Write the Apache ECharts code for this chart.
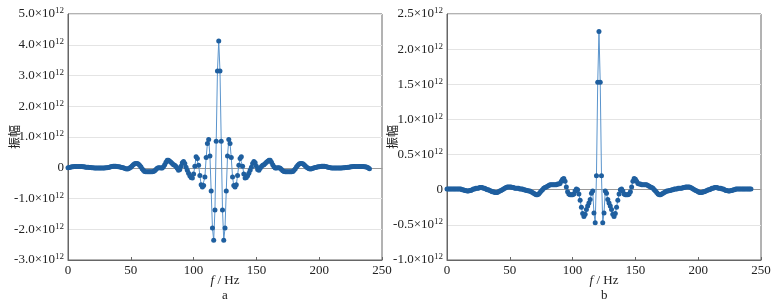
<!DOCTYPE html>
<html>
<head>
<meta charset="utf-8">
<script src="https://cdn.jsdelivr.net/npm/echarts@6/dist/echarts.min.js"></script>
<style>
  html, body { margin: 0; padding: 0; background: #fff; }
  #chart { width: 780px; height: 305px; }
</style>
</head>
<body>
<div id="chart"></div>
<script>
// amplitude, in units of 1e12, sampled every fStep Hz from 0
const fStep = 1;

const ampA = [
  0.00, 0.01, 0.02, 0.03, 0.03, 0.04, 0.04, 0.04, 0.04, 0.04,
  0.04, 0.04, 0.03, 0.03, 0.02, 0.02, 0.02, 0.01, 0.01, 0.00,
  0.00, -0.01, -0.01, -0.01, -0.01, -0.01, -0.01, -0.01, -0.01, -0.01,
  0.00, 0.00, 0.01, 0.02, 0.03, 0.04, 0.05, 0.05, 0.05, 0.04,
  0.03, 0.03, 0.02, 0.01, 0.00, -0.02, -0.03, -0.04, -0.03, -0.01,
  0.02, 0.06, 0.10, 0.13, 0.14, 0.14, 0.12, 0.08, 0.03, -0.03,
  -0.08, -0.12, -0.13, -0.13, -0.13, -0.13, -0.13, -0.13, -0.12, -0.10,
  -0.06, -0.02, 0.00, 0.00, -0.01, -0.01, 0.03, 0.10, 0.18, 0.24,
  0.24, 0.21, 0.18, 0.14, 0.10, 0.08, 0.04, -0.02, -0.08, -0.06,
  0.05, 0.16, 0.20, 0.14, 0.02, -0.08, -0.18, -0.26, -0.32, -0.33,
  -0.20, 0.05, 0.36, 0.30, 0.08, -0.25, -0.55, -0.63, -0.58, -0.30,
  0.33, 0.79, 0.92, 0.38, -0.76, -1.96, -2.36, -1.37, 0.86, 3.15,
  4.12,
  3.15, 0.86, -1.37, -2.36, -1.96, -0.76, 0.38, 0.92, 0.79, 0.33,
  -0.30, -0.58, -0.63, -0.55, -0.25, 0.08, 0.30, 0.36, 0.05, -0.20,
  -0.33, -0.32, -0.26, -0.18, -0.08, 0.02, 0.14, 0.20, 0.16, 0.05,
  -0.06, -0.08, -0.02, 0.04, 0.08, 0.10, 0.14, 0.18, 0.21, 0.24,
  0.24, 0.18, 0.10, 0.03, -0.01, -0.01, 0.00, 0.00, -0.02, -0.06,
  -0.10, -0.12, -0.13, -0.13, -0.13, -0.13, -0.13, -0.13, -0.12, -0.08,
  -0.03, 0.03, 0.08, 0.12, 0.14, 0.14, 0.13, 0.10, 0.06, 0.02,
  -0.01, -0.03, -0.04, -0.03, -0.02, 0.00, 0.01, 0.02, 0.03, 0.03,
  0.04, 0.05, 0.05, 0.05, 0.04, 0.03, 0.02, 0.01, 0.00, -0.01,
  -0.01, -0.01, -0.01, -0.01, -0.01, -0.01, -0.01, -0.01, 0.00, 0.00,
  0.01, 0.01, 0.02, 0.02, 0.03, 0.03, 0.04, 0.04, 0.04, 0.04,
  0.04, 0.04, 0.04, 0.04, 0.04, 0.03, 0.03, 0.02, 0.00, -0.03
];

const ampB = [
  0.01, 0.01, 0.01, 0.01, 0.01, 0.01, 0.01, 0.01, 0.01, 0.01,
  0.01, 0.01, 0.00, 0.00, -0.01, -0.01, -0.02, -0.02, -0.01, -0.01,
  0.00, 0.01, 0.01, 0.02, 0.02, 0.02, 0.03, 0.03, 0.03, 0.02,
  0.02, 0.01, 0.00, 0.00, -0.01, -0.02, -0.03, -0.03, -0.04, -0.04,
  -0.04, -0.03, -0.02, -0.01, 0.00, 0.01, 0.02, 0.03, 0.04, 0.04,
  0.04, 0.04, 0.03, 0.03, 0.02, 0.02, 0.02, 0.02, 0.01, 0.01,
  0.01, 0.00, 0.00, -0.01, -0.01, -0.02, -0.02, -0.03, -0.04, -0.05,
  -0.06, -0.07, -0.07, -0.06, -0.04, -0.02, 0.00, 0.02, 0.03, 0.04,
  0.05, 0.06, 0.07, 0.07, 0.07, 0.07, 0.07, 0.07, 0.08, 0.08,
  0.09, 0.12, 0.15, 0.16, 0.12, 0.04, -0.03, -0.06, -0.07, -0.07,
  -0.07, -0.06, -0.02, 0.01, 0.00, -0.06, -0.15, -0.25, -0.34, -0.38,
  -0.35, -0.28, -0.23, -0.19, -0.14, -0.05, -0.02, -0.33, -0.47, 0.20,
  1.53, 2.25, 1.53,
  0.20, -0.47, -0.33, -0.02, -0.05, -0.14, -0.19, -0.23, -0.28, -0.35,
  -0.38, -0.34, -0.25, -0.15, -0.06, 0.00, 0.01, -0.02, -0.06, -0.07,
  -0.07, -0.07, -0.06, -0.03, 0.04, 0.12, 0.16, 0.15, 0.12, 0.09,
  0.08, 0.08, 0.07, 0.07, 0.07, 0.07, 0.07, 0.06, 0.05, 0.04,
  0.03, 0.02, 0.00, -0.02, -0.04, -0.06, -0.07, -0.07, -0.06, -0.05,
  -0.04, -0.03, -0.02, -0.02, -0.01, -0.01, 0.00, 0.00, 0.01, 0.01,
  0.01, 0.02, 0.02, 0.02, 0.02, 0.03, 0.03, 0.04, 0.04, 0.04,
  0.04, 0.03, 0.02, 0.01, 0.00, -0.01, -0.02, -0.03, -0.04, -0.04,
  -0.04, -0.03, -0.03, -0.02, -0.01, 0.00, 0.00, 0.01, 0.02, 0.02,
  0.03, 0.03, 0.03, 0.02, 0.02, 0.02, 0.01, 0.01, 0.00, -0.01,
  -0.01, -0.02, -0.02, -0.01, -0.01, 0.00, 0.00, 0.01, 0.01, 0.01,
  0.01, 0.01, 0.01, 0.01, 0.01, 0.01, 0.01, 0.01, 0.01, 0.01
];

const xTicks = [0, 50, 100, 150, 200, 250];
const yTicksA = [-3, -2, -1, 0, 1, 2, 3, 4, 5];
const yTicksB = [-1, -0.5, 0, 0.5, 1, 1.5, 2, 2.5];
const panelLabels = ["a", "b"];

const serif = "Liberation Serif, Times New Roman, serif";
const cjk = "Liberation Serif, Noto Sans CJK SC, sans-serif";

function toPairs(arr) {
  return arr.map((v, i) => [i * fStep, v]);
}

function yLabel(v) {
  if (v === 0) return "{n|0}";
  return "{n|" + v.toFixed(1) + "×10}{s|12}";
}

const grids = [
  { left: 68, top: 14, width: 314, height: 246 },
  { left: 447, top: 14, width: 314, height: 246 },
];

function mainX(idx) {
  return {
    type: "value",
    gridIndex: idx,
    min: xTicks[0],
    max: xTicks[xTicks.length - 1],
    interval: 50,
    name: "{i|f} / Hz",
    nameLocation: "middle",
    nameGap: 14,
    nameMoveOverlap: false,
    nameTextStyle: {
      color: "#222",
      fontFamily: serif,
      fontSize: 13,
      rich: { i: { fontStyle: "italic", fontFamily: serif, fontSize: 13, color: "#222" } },
    },
    axisLine: { onZero: false, lineStyle: { color: "#666" } },
    axisTick: { show: true, inside: true, length: 3, lineStyle: { color: "#666" } },
    axisLabel: { color: "#222", fontFamily: serif, fontSize: 13, margin: 4 },
    splitLine: { show: false },
  };
}

// grey line through y = 0
function zeroX(idx) {
  return {
    type: "value",
    gridIndex: idx,
    min: xTicks[0],
    max: xTicks[xTicks.length - 1],
    axisLine: { onZero: true, lineStyle: { color: "#999" } },
    axisTick: { show: false },
    axisLabel: { show: false },
    splitLine: { show: false },
  };
}

function mainY(idx, ticks, step) {
  return {
    type: "value",
    gridIndex: idx,
    min: ticks[0],
    max: ticks[ticks.length - 1],
    interval: step,
    name: "振幅",
    nameLocation: "middle",
    nameRotate: 90,
    nameGap: idx === 0 ? 46 : 47,
    nameMoveOverlap: false,
    nameTextStyle: { color: "#222", fontFamily: cjk, fontSize: 12 },
    axisLine: { show: true, lineStyle: { color: "#666" } },
    axisTick: { show: false },
    axisLabel: {
      color: "#222",
      margin: 4,
      formatter: yLabel,
      rich: {
        n: { fontFamily: serif, fontSize: 13, color: "#222", lineHeight: 15 },
        s: { fontFamily: serif, fontSize: 9, color: "#222", lineHeight: 15, verticalAlign: "top", padding: [0, 0, 6, 0] },
      },
    },
    splitLine: { show: true, lineStyle: { color: "#e4e4e4", width: 1 } },
  };
}

function lineSeries(idx, arr) {
  return {
    type: "line",
    xAxisIndex: idx * 2,
    yAxisIndex: idx,
    data: toPairs(arr),
    symbol: "circle",
    symbolSize: 5,
    showAllSymbol: true,
    itemStyle: { color: "#1f5f9f" },
    lineStyle: { color: "#5a94cc", width: 1 },
    animation: false,
  };
}

const chart = echarts.init(document.getElementById("chart"));
chart.setOption({
  animation: false,
  grid: grids.map((g) => Object.assign({ show: true, borderColor: "#666", borderWidth: 1, backgroundColor: "transparent" }, g)),
  xAxis: [mainX(0), zeroX(0), mainX(1), zeroX(1)],
  yAxis: [mainY(0, yTicksA, 1), mainY(1, yTicksB, 0.5)],
  graphic: panelLabels.map((t, i) => ({
    type: "text",
    left: grids[i].left + grids[i].width / 2 - 3,
    top: 289,
    style: { text: t, fill: "#222", font: "13px " + serif },
  })),
  series: [lineSeries(0, ampA), lineSeries(1, ampB)],
});
</script>
</body>
</html>
